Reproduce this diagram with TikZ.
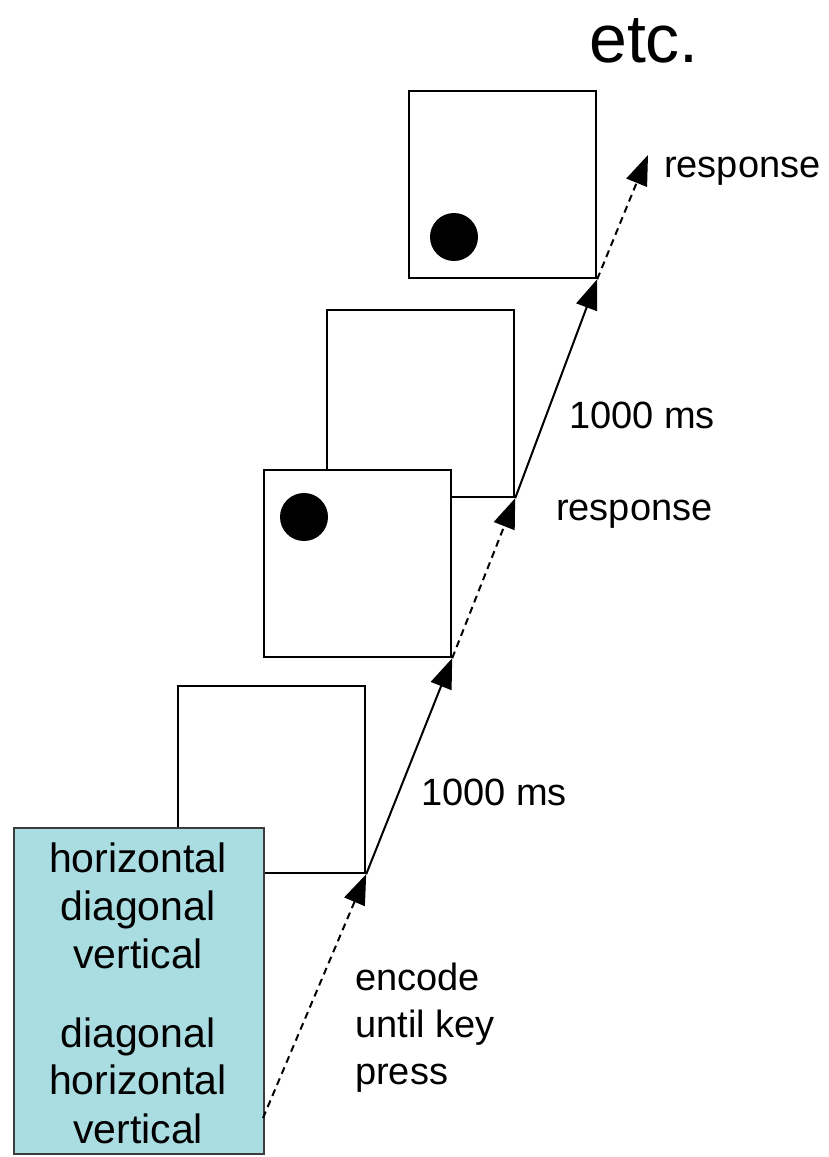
\documentclass[tikz,border=0pt]{standalone}
\usepackage{fontspec}
\setmainfont{Liberation Sans}
\usetikzlibrary{arrows.meta}
\definecolor{tealfill}{RGB}{170,221,225}
\definecolor{tealedge}{RGB}{60,60,60}
\begin{document}
\begin{tikzpicture}[x=1pt,y=-1pt,
  frame/.style={draw=black, line width=2.2pt, fill=white, minimum width=187pt, minimum height=187pt, anchor=north west, inner sep=0pt},
  encbox/.style={draw=tealedge, line width=2.2pt, fill=tealfill, minimum width=250pt, minimum height=326pt, anchor=north west, inner sep=0pt},
  dot/.style={circle, fill=black, minimum size=48pt, inner sep=0pt},
  lbl/.style={font=\fontsize{38}{46}\selectfont, anchor=base west, inner sep=0pt},
  word/.style={font=\fontsize{41}{48}\selectfont, anchor=base, inner sep=0pt},
  solidarrow/.style={line width=2pt, -{Triangle[length=30pt,width=22pt]}},
  dasharrow/.style={line width=2pt, dash pattern=on 7pt off 5pt, -{Triangle[length=30pt,width=22pt]}}
]
\useasboundingbox (0,0) rectangle (828,1157);
% frames, back to front
\node[frame] (f4) at (408,90) {};
\node[frame] (f3) at (326,309) {};
\node[frame] (f2) at (263,469) {};
\node[frame] (f1) at (177,685) {};
\node[encbox] (enc) at (13,827) {};
% dots
\node[dot] (d4) at (454,237) {};
\node[dot] (d2) at (304,517) {};
% text in encoding box
\node[word] (w1) at (138,872) {horizontal};
\node[word] (w2) at (138,920) {diagonal};
\node[word] (w3) at (138,968) {vertical};
\node[word] (w4) at (138,1047) {diagonal};
\node[word] (w5) at (138,1094) {horizontal};
\node[word] (w6) at (138,1143) {vertical};
% arrow coordinates
\coordinate (start) at (263,1118);
\coordinate (endtip) at (648,155);
\draw[dasharrow] (start) -- (f1.south east);
\draw[solidarrow] (f1.south east) -- (f2.south east);
\draw[dasharrow] (f2.south east) -- (f3.south east);
\draw[solidarrow] (f3.south east) -- (f4.south east);
\draw[dasharrow] (f4.south east) -- (endtip);
% labels
\node[lbl] (l1) at (355,990) {encode};
\node[lbl] (l2) at (355,1037) {until key};
\node[lbl] (l3) at (355,1084) {press};
\node[lbl] (l4) at (421,805) {1000 ms};
\node[lbl] (l5) at (556,520) {response};
\node[lbl] (l6) at (569,428) {1000 ms};
\node[lbl] (l7) at (664,177) {response};
\node[font=\fontsize{68}{80}\selectfont, anchor=base west, inner sep=0pt] (etc) at (589,62) {etc.};
\end{tikzpicture}
\end{document}
